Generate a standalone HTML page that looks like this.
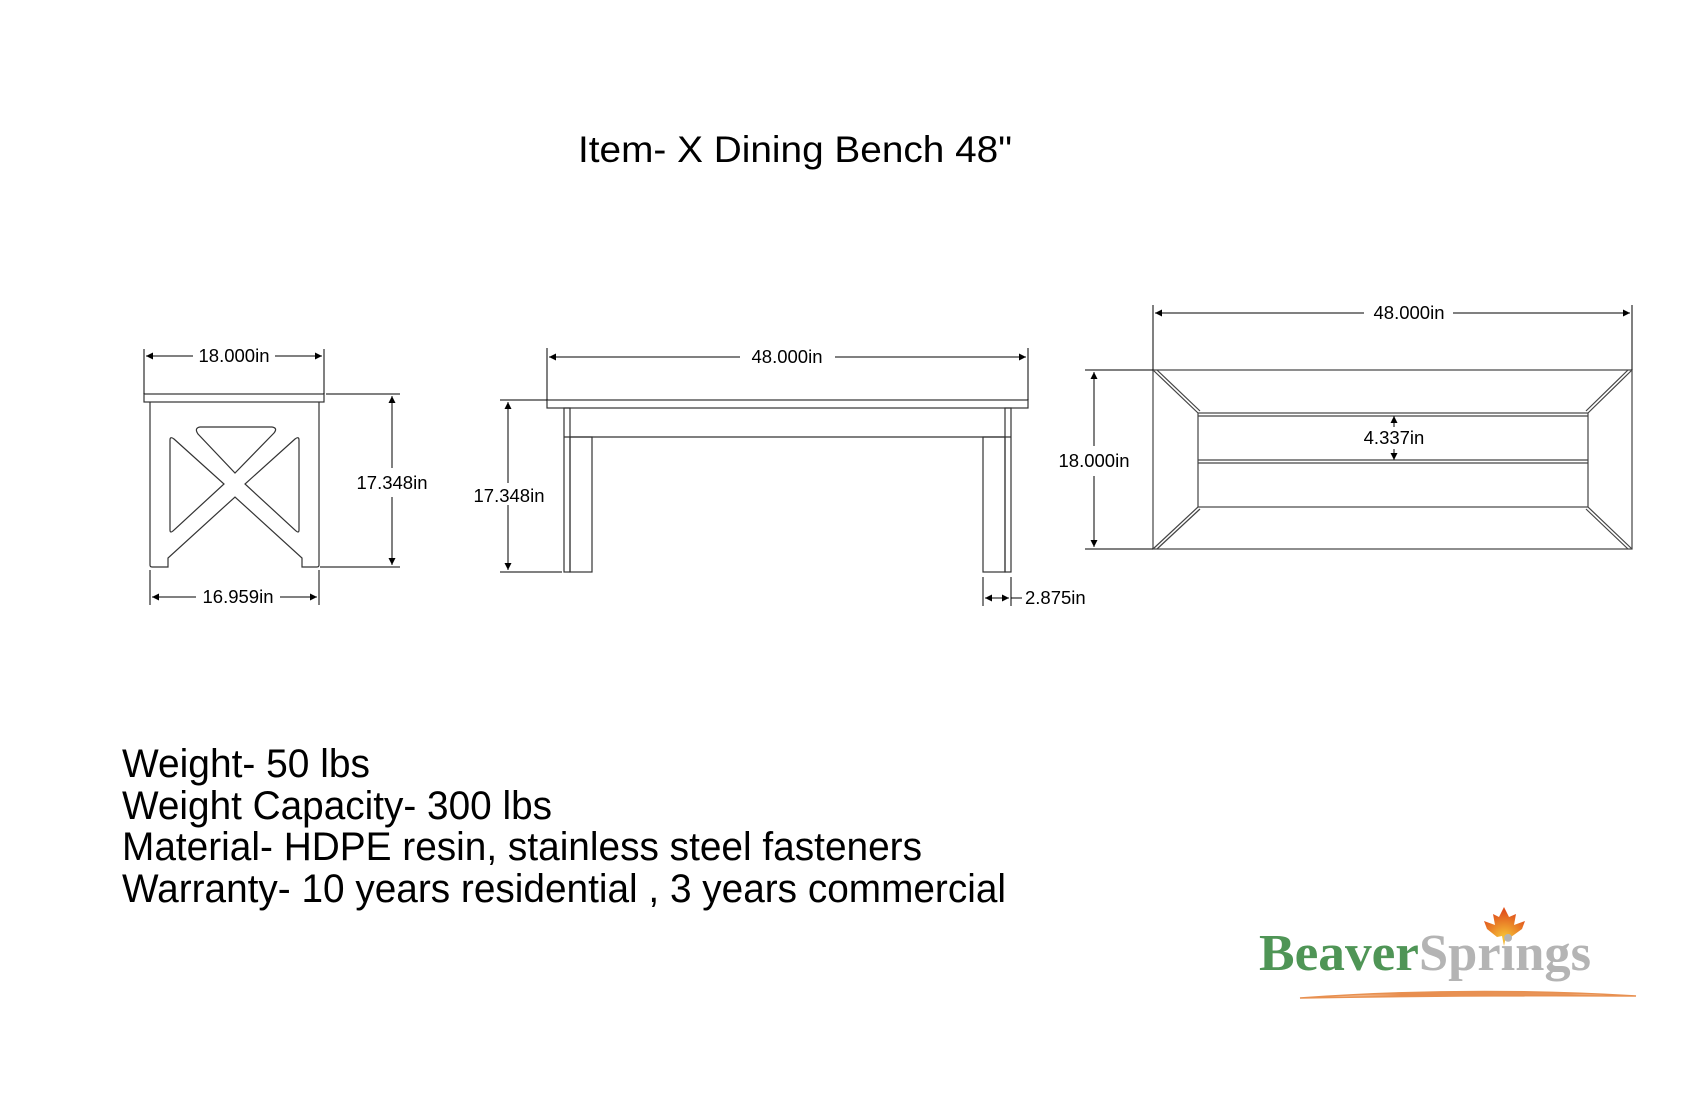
<!DOCTYPE html>
<html><head><meta charset="utf-8"><style>
html,body{margin:0;padding:0;background:#fff;}
svg{display:block;}
</style></head><body>
<svg width="1700" height="1100" viewBox="0 0 1700 1100" xmlns="http://www.w3.org/2000/svg" font-family="Liberation Sans, sans-serif">
<defs>
<marker id="a" viewBox="0 0 10 10" refX="10" refY="5" markerWidth="13" markerHeight="7" orient="auto-start-reverse" markerUnits="userSpaceOnUse"><path d="M0,0L10,5L0,10z" fill="#000"/></marker>
<linearGradient id="sw" x1="0" x2="1"><stop offset="0" stop-color="#f0a060" stop-opacity="0.2"/><stop offset="0.3" stop-color="#e88d4e"/><stop offset="0.8" stop-color="#e8955a"/><stop offset="1" stop-color="#f0a060" stop-opacity="0.2"/></linearGradient>
<radialGradient id="lf" cx="0.5" cy="0.8" r="0.7"><stop offset="0" stop-color="#f7c838"/><stop offset="1" stop-color="#e0501c"/></radialGradient>
</defs>

<text x="578" y="162" font-size="37" textLength="434" lengthAdjust="spacingAndGlyphs">Item- X Dining Bench 48"</text>

<!-- SIDE VIEW -->
<g fill="none" stroke="#333" stroke-width="1.2">
<rect x="144" y="394" width="180" height="8"/>
<path d="M150,402 V565 Q150,567 152,567 H168 V558 L235,497 L302,558 V567 H317 Q319,567 319,565 V402"/>
<path d="M200,427 H272 Q278,428 274,433 L235,473 L198,434 Q194,428 200,427Z"/>
<path d="M170,440 Q170,436 174,439 L224,484 L174,530 Q170,534 170,530Z"/>
<path d="M299,440 Q299,436 295,439 L245,484 L295,530 Q299,534 299,530Z"/>
</g>
<g stroke="#000" stroke-width="1" fill="none">
<line x1="144" y1="349" x2="144" y2="394"/><line x1="324" y1="349" x2="324" y2="394"/>
<line x1="146" y1="356" x2="193" y2="356" marker-start="url(#a)"/><line x1="275" y1="356" x2="322" y2="356" marker-end="url(#a)"/>
<line x1="326" y1="394" x2="400" y2="394"/><line x1="320" y1="567" x2="400" y2="567"/>
<line x1="392" y1="396" x2="392" y2="468" marker-start="url(#a)"/><line x1="392" y1="497" x2="392" y2="565" marker-end="url(#a)"/>
<line x1="150" y1="570" x2="150" y2="605"/><line x1="319" y1="570" x2="319" y2="605"/>
<line x1="152" y1="597" x2="196" y2="597" marker-start="url(#a)"/><line x1="280" y1="597" x2="317" y2="597" marker-end="url(#a)"/>
</g>
<text x="234" y="362" font-size="18.5" text-anchor="middle">18.000in</text>
<text x="392" y="489" font-size="18.5" text-anchor="middle">17.348in</text>
<text x="238" y="603" font-size="18.5" text-anchor="middle">16.959in</text>

<!-- FRONT VIEW -->
<g fill="none" stroke="#333" stroke-width="1.2">
<rect x="547" y="400" width="481" height="8"/>
<line x1="564" y1="437" x2="1011" y2="437"/>
<rect x="564" y="408" width="6" height="164"/>
<rect x="570" y="437" width="22" height="135"/>
<rect x="1005" y="408" width="6" height="164"/>
<rect x="983" y="437" width="22" height="135"/>
</g>
<g stroke="#000" stroke-width="1" fill="none">
<line x1="547" y1="348" x2="547" y2="400"/><line x1="1028" y1="348" x2="1028" y2="400"/>
<line x1="549" y1="357" x2="740" y2="357" marker-start="url(#a)"/><line x1="835" y1="357" x2="1026" y2="357" marker-end="url(#a)"/>
<line x1="500" y1="400" x2="547" y2="400"/><line x1="500" y1="572" x2="562" y2="572"/>
<line x1="508" y1="402" x2="508" y2="570" marker-start="url(#a)" marker-end="url(#a)"/>
<line x1="983" y1="577" x2="983" y2="606"/><line x1="1011" y1="577" x2="1011" y2="606"/>
<line x1="985" y1="598" x2="997" y2="598" marker-start="url(#a)"/><line x1="997" y1="598" x2="1009" y2="598" marker-end="url(#a)"/>
<line x1="1011" y1="598" x2="1022" y2="598"/>
</g>
<rect x="470" y="483" width="78" height="22" fill="#fff"/>
<text x="509" y="502" font-size="18.5" text-anchor="middle">17.348in</text>
<text x="787" y="363" font-size="18.5" text-anchor="middle">48.000in</text>
<text x="1025" y="604" font-size="18.5">2.875in</text>

<!-- TOP VIEW -->
<g fill="none" stroke="#444" stroke-width="1.2">
<rect x="1153" y="370" width="479" height="179"/>
<rect x="1198" y="413" width="390" height="94"/>
<line x1="1198" y1="460" x2="1588" y2="460"/>
<line x1="1198" y1="416" x2="1588" y2="416"/><line x1="1198" y1="463" x2="1588" y2="463"/>
<line x1="1153" y1="370" x2="1198" y2="413"/><line x1="1157" y1="370" x2="1200" y2="411"/>
<line x1="1632" y1="370" x2="1588" y2="413"/><line x1="1628" y1="370" x2="1586" y2="411"/>
<line x1="1153" y1="549" x2="1198" y2="507"/><line x1="1157" y1="549" x2="1200" y2="509"/>
<line x1="1632" y1="549" x2="1588" y2="507"/><line x1="1628" y1="549" x2="1586" y2="509"/>
</g>
<g stroke="#000" stroke-width="1" fill="none">
<line x1="1153" y1="305" x2="1153" y2="370"/><line x1="1632" y1="305" x2="1632" y2="370"/>
<line x1="1155" y1="313" x2="1364" y2="313" marker-start="url(#a)"/><line x1="1453" y1="313" x2="1630" y2="313" marker-end="url(#a)"/>
<line x1="1085" y1="370" x2="1153" y2="370"/><line x1="1085" y1="549" x2="1153" y2="549"/>
<line x1="1094" y1="372" x2="1094" y2="446" marker-start="url(#a)"/><line x1="1094" y1="476" x2="1094" y2="547" marker-end="url(#a)"/>
<line x1="1394" y1="427" x2="1394" y2="416" marker-end="url(#a)"/><line x1="1394" y1="449" x2="1394" y2="460" marker-end="url(#a)"/>
</g>
<text x="1409" y="319" font-size="18.5" text-anchor="middle">48.000in</text>
<text x="1094" y="467" font-size="18.5" text-anchor="middle">18.000in</text>
<text x="1394" y="444" font-size="18.5" text-anchor="middle">4.337in</text>

<!-- SPECS -->
<text x="122" y="777" font-size="40" textLength="248" lengthAdjust="spacingAndGlyphs">Weight- 50 lbs</text>
<text x="122" y="819" font-size="40" textLength="430" lengthAdjust="spacingAndGlyphs">Weight Capacity- 300 lbs</text>
<text x="122" y="860" font-size="40" textLength="800" lengthAdjust="spacingAndGlyphs">Material- HDPE resin, stainless steel fasteners</text>
<text x="122" y="902" font-size="40" textLength="884" lengthAdjust="spacingAndGlyphs">Warranty- 10 years residential , 3 years commercial</text>

<!-- LOGO -->
<path d="M1300,998 Q1470,986 1636,996 Q1470,995 1300,998Z" fill="url(#sw)" stroke="#e89050" stroke-width="1.5"/>
<path d="M1504,907 L1499,917 L1493,914 L1495,925 L1484,921 L1487,929 L1497,937 L1502,936 L1504,946 L1506,936 L1511,937 L1522,929 L1525,921 L1514,925 L1516,914 L1509,917Z" fill="url(#lf)"/>
<text x="1259" y="970" style="font-family:'Liberation Serif',serif;font-weight:bold;fill:#4f9556" font-size="52" textLength="160" lengthAdjust="spacingAndGlyphs">Beaver</text>
<text x="1419" y="970" style="font-family:'Liberation Serif',serif;font-weight:bold;fill:#b4b4b4" font-size="52" textLength="172" lengthAdjust="spacingAndGlyphs">Springs</text>
</svg>
</body></html>
